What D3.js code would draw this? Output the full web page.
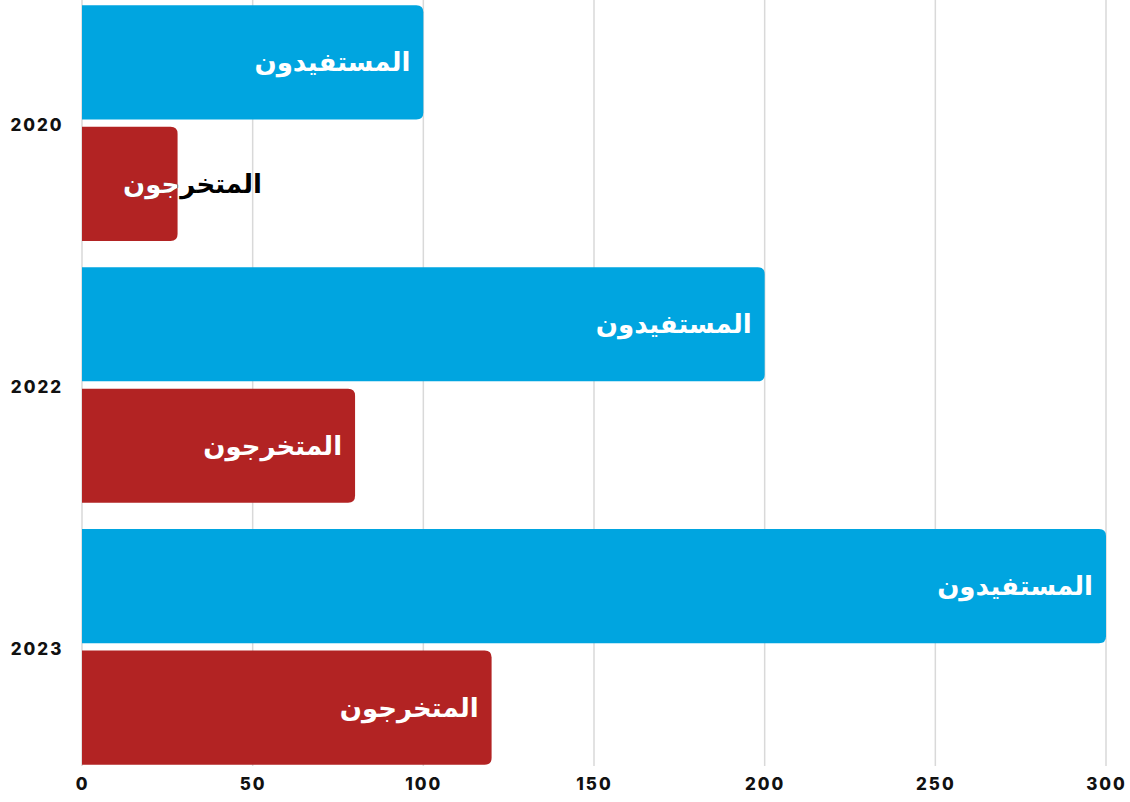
<!DOCTYPE html>
<html>
<head>
<meta charset="utf-8">
<script src="https://cdn.jsdelivr.net/npm/d3@7"></script>
<style>
  body { margin: 0; background: #fff; }
  svg { display: block; }
  .tick text { font-family: Inter, "DejaVu Sans", sans-serif; font-weight: 800; }
</style>
</head>
<body>
<svg></svg>
<script>
let years = ['2020', '2022', '2023']
let seriesNames = ['المستفيدون', 'المتخرجون']
let beneficiaries = [100, 200, 300]
let graduates = [28, 80, 120]
let xTicks = [0, 50, 100, 150, 200, 250, 300]
let colors = ['#00a5e0', '#b22323']

let w = 1130
let h = 802
let labelSize = 26

let svg = d3.select('svg').attr('width', w).attr('height', h)

let rows = years.map((y, i) => ({ year: y, values: [beneficiaries[i], graduates[i]] }))

let xScale = d3.scaleLinear().domain([0, 300]).range([82, 1106])
let yScale = d3.scaleBand().domain(years).range([0, 770]).paddingInner(0.1).paddingOuter(0.02)
let subScale = d3.scaleBand().domain(d3.range(seriesNames.length)).range([0, yScale.bandwidth()]).paddingInner(0.06)

// grid lines
svg.append('g')
    .selectAll('line')
    .data(xTicks)
    .enter()
    .append('line')
    .attr('x1', d => xScale(d))
    .attr('x2', d => xScale(d))
    .attr('y1', 0)
    .attr('y2', 766)
    .attr('stroke', '#d9d9d9')
    .attr('stroke-width', 1.5)

// rounded-right bar path
let barPath = (x0, x1, y0, hgt, r) => {
    r = Math.min(r, x1 - x0)
    return 'M' + x0 + ',' + y0 +
        'H' + (x1 - r) +
        'Q' + x1 + ',' + y0 + ' ' + x1 + ',' + (y0 + r) +
        'V' + (y0 + hgt - r) +
        'Q' + x1 + ',' + (y0 + hgt) + ' ' + (x1 - r) + ',' + (y0 + hgt) +
        'H' + x0 + 'Z'
}

let defs = svg.append('defs')

let addLabel = (g, x, y, fill, txt) => {
    return g.append('text')
        .attr('x', x)
        .attr('y', y)
        .attr('dy', '0.35em')
        .attr('text-anchor', 'end')
        .style('font-family', '"DejaVu Sans", sans-serif')
        .style('font-weight', 'bold')
        .style('font-size', labelSize + 'px')
        .attr('fill', fill)
        .text(txt)
}

let groups = svg.selectAll('.group')
    .data(rows)
    .enter()
    .append('g')
    .attr('class', 'group')
    .attr('transform', d => 'translate(0,' + yScale(d.year) + ')')

groups.each(function(row, gi) {
    let g = d3.select(this)
    row.values.forEach((v, si) => {
        let y0 = subScale(si)
        let bh = subScale.bandwidth()
        let x0 = xScale(0)
        let x1 = xScale(v)
        let d = barPath(x0, x1, y0, bh, 7)
        g.append('path').attr('d', d).attr('fill', colors[si])

        let clipId = 'clip-' + gi + '-' + si
        defs.append('clipPath').attr('id', clipId)
            .append('path').attr('d', d)
            .attr('transform', 'translate(0,' + yScale(row.year) + ')')

        let label = addLabel(g, x1 - 13, y0 + bh / 2, '#fff', seriesNames[si])

        let tw = label.node().getComputedTextLength()
        if (tw + 26 > x1 - x0) {
            // label doesn't fit: draw black, with the part over the bar in white
            let lx = x0 + 41 + tw
            label.attr('x', lx).attr('fill', '#000')
            addLabel(g, lx, y0 + bh / 2, '#fff', seriesNames[si])
                .attr('clip-path', 'url(#' + clipId + ')')
        }
    })
})

// year labels
svg.append('g')
    .selectAll('text')
    .data(years)
    .enter()
    .append('text')
    .attr('x', 37)
    .attr('y', d => yScale(d) + yScale.bandwidth() / 2 + 2)
    .attr('dy', '0.35em')
    .attr('text-anchor', 'middle')
    .style('font-family', 'Inter, "DejaVu Sans", sans-serif')
    .style('font-weight', 800)
    .style('font-size', '17px')
    .style('letter-spacing', '2px')
    .attr('fill', '#111')
    .text(d => d)

// x axis
let xAxis = d3.axisBottom(xScale).tickValues(xTicks).tickSize(0).tickPadding(12)
let ax = svg.append('g')
    .attr('transform', 'translate(0,766)')
    .call(xAxis)
ax.select('.domain').remove()
ax.selectAll('text')
    .style('font-size', '17px')
    .style('letter-spacing', '2px')
    .attr('fill', '#111')
</script>
</body>
</html>
